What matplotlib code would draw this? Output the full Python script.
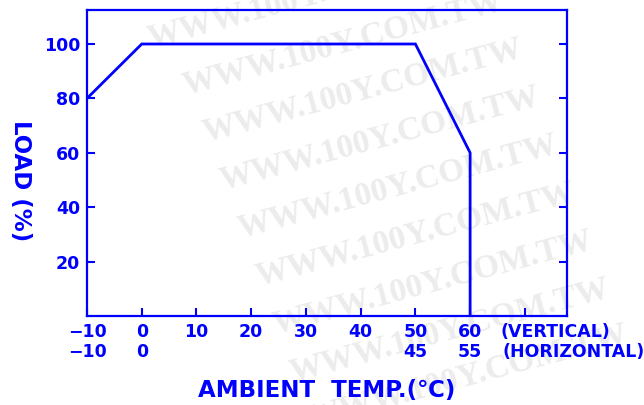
import matplotlib
matplotlib.use("Agg")
import matplotlib.pyplot as plt
from matplotlib.transforms import blended_transform_factory

BLUE = "#0000FF"

# derating curve (vertical mounting scale)
temp_vertical = [-10, 0, 50, 60, 60]
load_pct = [80, 100, 100, 60, 0]

x_ticks = [-10, 0, 10, 20, 30, 40, 50, 60, 70]
y_ticks = [20, 40, 60, 80, 100]
row1_pos = [-10, 0, 10, 20, 30, 40, 50, 60]
row1_labels = ["−10", "0", "10", "20", "30", "40", "50", "60"]
row2_pos = [-10, 0, 50, 60]
row2_labels = ["−10", "0", "45", "55"]

WATERMARK = "WWW.100Y.COM.TW"
wm_rows = [(150, 48), (185, 95), (205, 142), (222, 190), (240, 238),
           (258, 286), (275, 334), (292, 382), (310, 428)]

plt.rcParams["font.family"] = "DejaVu Sans"
plt.rcParams["font.weight"] = "bold"

fig = plt.figure(figsize=(6.44, 4.05), dpi=100)
W, H = 644, 405

# faint watermark behind everything
for x0, y0 in wm_rows:
    fig.text(x0 / W, 1 - y0 / H, WATERMARK, family="Liberation Serif",
             weight="bold", fontsize=24, color="#ececec", rotation=15,
             rotation_mode="anchor", ha="left", va="baseline", zorder=0)

ax = fig.add_axes([87 / W, 1 - 316 / H, (567 - 87) / W, (316 - 10) / H])
ax.set_zorder(1)
ax.patch.set_alpha(0)

ax.plot(temp_vertical, load_pct, color=BLUE, lw=2.0, solid_joinstyle="miter")

ax.set_xlim(-10, 77.7)
ax.set_ylim(0, 112.5)

for s in ax.spines.values():
    s.set_color(BLUE)
    s.set_linewidth(1.6)

ax.set_xticks(x_ticks)
ax.set_xticklabels([])
ax.set_yticks(y_ticks)
ax.set_yticklabels([str(v) for v in y_ticks])
ax.tick_params(axis="x", direction="in", length=6, width=1.5, color=BLUE)
ax.tick_params(axis="y", direction="in", length=6, width=1.5, color=BLUE,
               right=True, labelcolor=BLUE, labelsize=12.5, pad=5)

tr = blended_transform_factory(ax.transData, fig.transFigure)
for x, lab in zip(row1_pos, row1_labels):
    fig.text(x, 1 - 332 / H, lab, transform=tr, ha="center", va="center",
             color=BLUE, fontsize=12.5)
for x, lab in zip(row2_pos, row2_labels):
    fig.text(x, 1 - 352 / H, lab, transform=tr, ha="center", va="center",
             color=BLUE, fontsize=12.5)
fig.text(500 / W, 1 - 332 / H, "(VERTICAL)", ha="left", va="center",
         color=BLUE, fontsize=12.5)
fig.text(502 / W, 1 - 352 / H, "(HORIZONTAL)", ha="left", va="center",
         color=BLUE, fontsize=12.5)

fig.text(198 / W, 1 - 390 / H, "AMBIENT  TEMP.(℃)", ha="left", va="center",
         color=BLUE, fontsize=16.5)
fig.text(20 / W, 1 - 181 / H, "LOAD (%)", ha="center", va="center",
         rotation=-90, color=BLUE, fontsize=16.5)

fig.savefig("out.png", dpi=100)
